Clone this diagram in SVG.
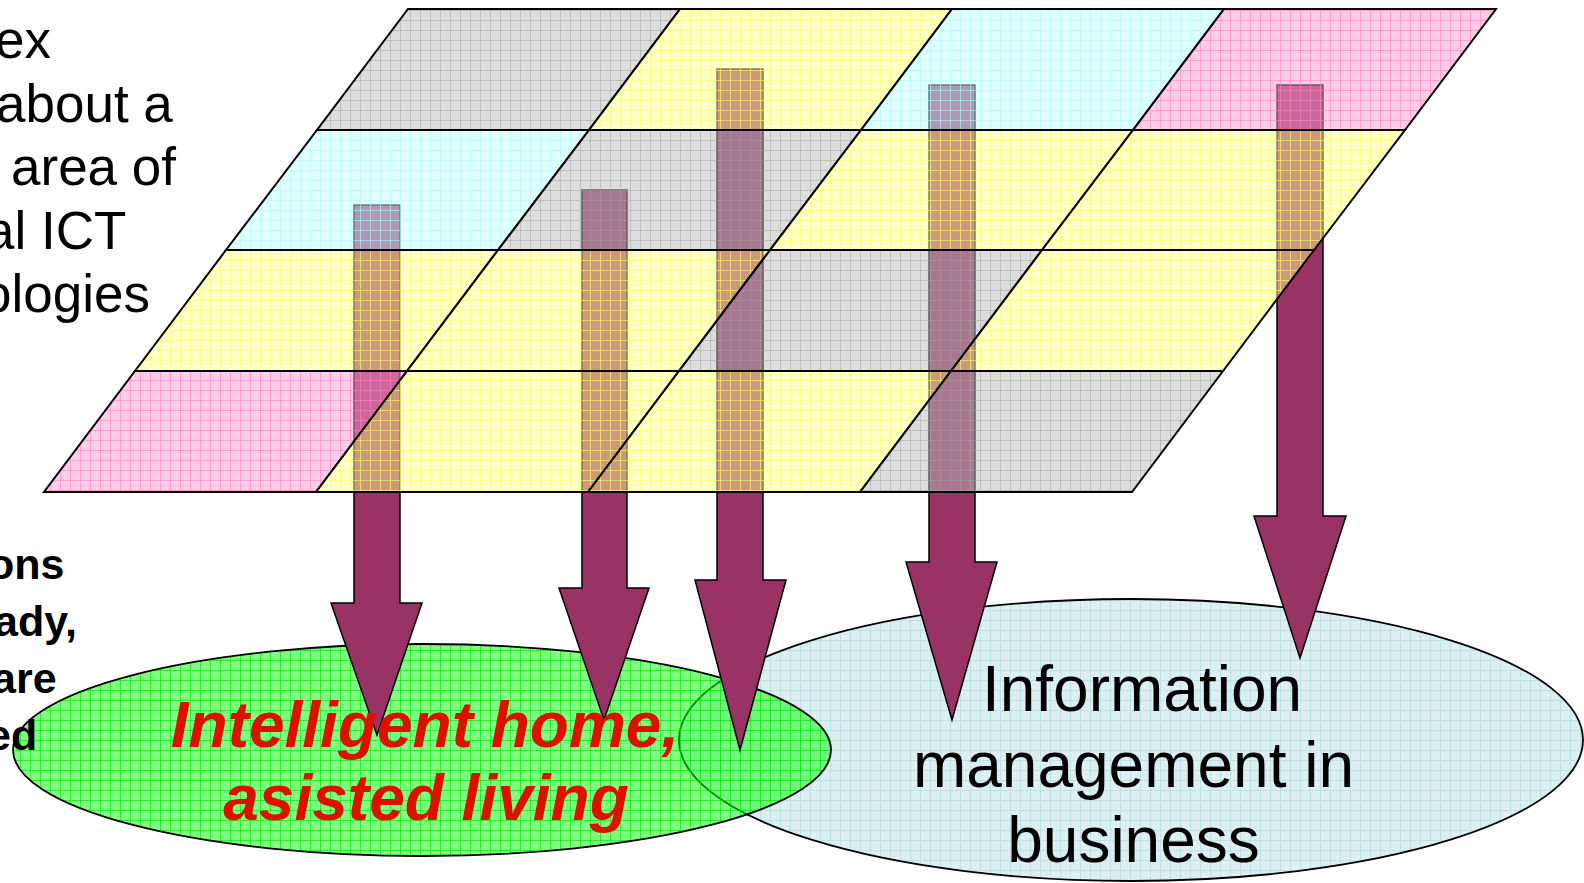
<svg xmlns="http://www.w3.org/2000/svg" width="1584" height="883" viewBox="0 0 1584 883">
<defs>
<pattern id="pGray" patternUnits="userSpaceOnUse" width="10" height="10">
<rect width="10" height="10" fill="#bbbbbb" fill-opacity="0.5"/>
<path d="M0 0.5H10M0.5 0V10" stroke="#a0a0a0" stroke-opacity="0.5" stroke-width="1"/>
</pattern>
<pattern id="pYellow" patternUnits="userSpaceOnUse" width="10" height="10">
<rect width="10" height="10" fill="#ffff91" fill-opacity="0.5"/>
<path d="M0 0.5H10M0.5 0V10" stroke="#ffff70" stroke-opacity="0.6" stroke-width="1"/>
</pattern>
<pattern id="pCyan" patternUnits="userSpaceOnUse" width="10" height="10">
<rect width="10" height="10" fill="#c1ffff" fill-opacity="0.5"/>
<path d="M0 0.5H10M0.5 0V10" stroke="#b0f8ff" stroke-opacity="0.6" stroke-width="1"/>
</pattern>
<pattern id="pPink" patternUnits="userSpaceOnUse" width="10" height="10">
<rect width="10" height="10" fill="#ff9bcd" fill-opacity="0.5"/>
<path d="M0 0.5H10M0.5 0V10" stroke="#ff82c5" stroke-opacity="0.6" stroke-width="1"/>
</pattern>
<pattern id="pGreen" patternUnits="userSpaceOnUse" width="10" height="10">
<rect width="10" height="10" fill="#00ff00" fill-opacity="0.5"/>
<path d="M0 0.5H10M0.5 0V10" stroke="#00e000" stroke-opacity="0.6" stroke-width="1"/>
</pattern>
<pattern id="pBlue" patternUnits="userSpaceOnUse" width="10" height="10">
<rect width="10" height="10" fill="#ddeff1"/>
<path d="M0 0.5H10M0.5 0V10" stroke="#bde2e6" stroke-width="1"/>
</pattern>
<style>
.cell{stroke:#000;stroke-width:2;stroke-linejoin:miter}
.g{fill:url(#pGray)}.y{fill:url(#pYellow)}.c{fill:url(#pCyan)}.p{fill:url(#pPink)}
.arrow{fill:#993366;stroke:#000;stroke-width:1.5;stroke-linejoin:miter}
.ell{stroke:#000;stroke-width:1.8}
.t1{font-family:"Liberation Sans",Arial,sans-serif;font-size:53px;fill:#000}
.t2{font-family:"Liberation Sans",Arial,sans-serif;font-size:43px;font-weight:bold;fill:#000}
.t3{font-family:"Liberation Sans",Arial,sans-serif;font-size:64px;font-weight:bold;font-style:italic;fill:#dd1100;text-anchor:middle}
.t4{font-family:"Liberation Sans",Arial,sans-serif;font-size:64px;fill:#000;text-anchor:middle}
</style>
</defs>
<rect width="1584" height="883" fill="#fff"/>

<g id="business-area">
<ellipse class="ell" cx="1131" cy="740" rx="452" ry="141" fill="url(#pBlue)"/>
</g>
<g id="home-area">
<ellipse class="ell" cx="422" cy="750" rx="409" ry="106" fill="url(#pGreen)"/>
</g>

<g id="connectors">
<path class="arrow" d="M354 205H400V603H422L377 735L331 603H354Z"/>
<path class="arrow" d="M582 190H627V588H649L604 720L559 588H582Z"/>
<path class="arrow" d="M717 69H763V580H786L740 750L695 580H717Z"/>
<path class="arrow" d="M929 85H975V562H997L952 720L906 562H929Z"/>
<path class="arrow" d="M1277 85H1323V516H1346L1300 658L1254 516H1277Z"/>
</g>

<g id="technology-grid">
<g id="row1">
<path class="cell g" d="M408 9H680L589 130H317Z"/>
<path class="cell y" d="M680 9H952L861 130H589Z"/>
<path class="cell c" d="M952 9H1224L1133 130H861Z"/>
<path class="cell p" d="M1224 9H1496L1405 130H1133Z"/>
</g>
<g id="row2">
<path class="cell c" d="M317 130H589L498 250H226Z"/>
<path class="cell g" d="M589 130H861L770 250H498Z"/>
<path class="cell y" d="M861 130H1133L1042 250H770Z"/>
<path class="cell y" d="M1133 130H1405L1314 250H1042Z"/>
</g>
<g id="row3">
<path class="cell y" d="M226 250H498L407 371H135Z"/>
<path class="cell y" d="M498 250H770L679 371H407Z"/>
<path class="cell g" d="M770 250H1042L951 371H679Z"/>
<path class="cell y" d="M1042 250H1314L1223 371H951Z"/>
</g>
<g id="row4">
<path class="cell p" d="M135 371H407L316 492H44Z"/>
<path class="cell y" d="M407 371H679L588 492H316Z"/>
<path class="cell y" d="M679 371H951L860 492H588Z"/>
<path class="cell g" d="M951 371H1223L1132 492H860Z"/>
</g>
</g>

<g id="text-top-left">
<text class="t1" x="-5" y="58">ex</text>
<text class="t1" x="-4" y="122">about a</text>
<text class="t1" x="11" y="185">area of</text>
<text class="t1" x="-15" y="249">al ICT</text>
<text class="t1" x="-18" y="312">ologies</text>
</g>
<g id="text-bottom-left">
<text class="t2" x="-12" y="579">ons</text>
<text class="t2" x="-6" y="636">ady,</text>
<text class="t2" x="-8" y="693">are</text>
<text class="t2" x="-13" y="750">ed</text>
</g>
<g id="home-label">
<text class="t3" x="425" y="747">Intelligent home,</text>
<text class="t3" x="426" y="820">asisted living</text>
</g>
<g id="business-label">
<text class="t4" x="1142" y="711">Information</text>
<text class="t4" x="1133.5" y="787">management in</text>
<text class="t4" x="1133.5" y="862">business</text>
</g>
</svg>
